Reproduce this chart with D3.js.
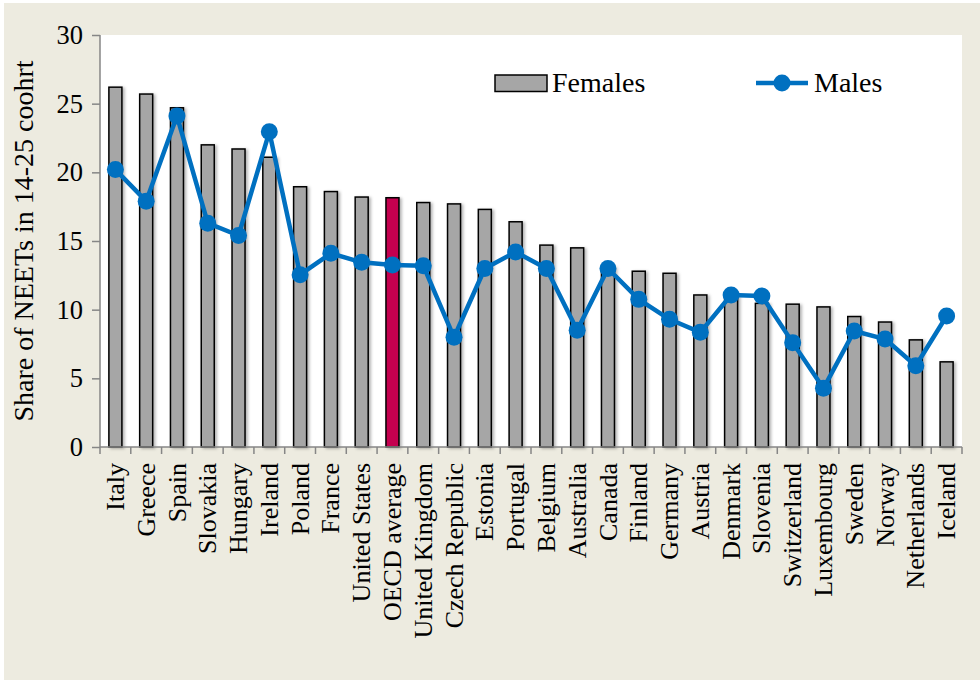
<!DOCTYPE html>
<html>
<head>
<meta charset="utf-8">
<script src="https://cdn.jsdelivr.net/npm/d3@7"></script>
<style>
  html, body { margin: 0; padding: 0; background: #fff; }
  svg { display: block; }
</style>
</head>
<body>
<div id="chart-container"></div>
<script>
const countries = ["Italy", "Greece", "Spain", "Slovakia", "Hungary", "Ireland", "Poland", "France",
  "United States", "OECD average", "United Kingdom", "Czech Republic", "Estonia", "Portugal", "Belgium",
  "Australia", "Canada", "Finland", "Germany", "Austria", "Denmark", "Slovenia", "Switzerland",
  "Luxembourg", "Sweden", "Norway", "Netherlands", "Iceland"]
const females = [26.2, 25.7, 24.7, 22.0, 21.7, 21.1, 18.95, 18.6, 18.2, 18.15, 17.8, 17.7, 17.3, 16.4,
  14.7, 14.5, 13.1, 12.8, 12.65, 11.07, 11.0, 10.46, 10.4, 10.2, 9.5, 9.1, 7.8, 6.2]
const males = [20.2, 17.9, 24.1, 16.3, 15.4, 22.95, 12.55, 14.1, 13.45, 13.25, 13.2, 7.99, 13.0, 14.2,
  13.0, 8.5, 13.0, 10.75, 9.3, 8.35, 11.07, 11.0, 7.6, 4.27, 8.45, 7.86, 5.92, 9.54]
const yTicks = [0, 5, 10, 15, 20, 25, 30]
const highlight = "OECD average"

const drawChart = (w, h) => {
  const m = { left: 100, right: 962, top: 35, bottom: 447 }
  const font = "'Liberation Serif', 'Times New Roman', serif"

  const svg = d3.select('#chart-container')
    .append('svg')
    .attr('width', w)
    .attr('height', h)

  // beige frame, white plot area
  svg.append('rect').attr('x', 4).attr('y', 3).attr('width', w - 4).attr('height', h - 3)
    .attr('fill', '#EDEBE0')
  svg.append('rect').attr('x', m.left).attr('y', m.top)
    .attr('width', m.right - m.left).attr('height', m.bottom - m.top)
    .attr('fill', '#fff')

  const defs = svg.append('defs')
  const f = defs.append('filter').attr('id', 'shadow')
    .attr('x', '-50%').attr('y', '-10%').attr('width', '200%').attr('height', '130%')
  f.append('feDropShadow').attr('dx', 2).attr('dy', 1).attr('stdDeviation', 1.5)
    .attr('flood-color', '#000').attr('flood-opacity', 0.3)

  const x = d3.scaleBand().domain(countries).range([m.left, m.right])
  const y = d3.scaleLinear().domain([0, 30]).range([m.bottom, m.top])
  const bw = 13

  // bars
  svg.append('g').selectAll('rect')
    .data(countries)
    .enter()
    .append('rect')
    .attr('x', d => x(d) + x.bandwidth() / 2 - bw / 2)
    .attr('y', (d, i) => y(females[i]))
    .attr('width', bw)
    .attr('height', (d, i) => y(0) - y(females[i]))
    .attr('fill', d => d === highlight ? '#C4004F' : '#A6A6A6')
    .attr('stroke', '#000')
    .attr('stroke-width', 1.5)
    .attr('filter', 'url(#shadow)')

  // y axis
  const yAxis = svg.append('g')
    .attr('transform', `translate(${m.left}, 0)`)
    .call(d3.axisLeft(y).tickValues(yTicks).tickSize(8).tickPadding(9))
  yAxis.selectAll('path, line').attr('stroke', '#868686').attr('stroke-width', 1.5)
  yAxis.select('.domain').attr('d', `M0,${m.top}V${m.bottom}`)
  yAxis.selectAll('text').attr('font-family', font).attr('font-size', 26.5).attr('fill', '#000')

  // x axis with ticks at category boundaries
  const xa = svg.append('g')
  xa.append('line').attr('x1', m.left).attr('x2', m.right).attr('y1', m.bottom).attr('y2', m.bottom)
    .attr('stroke', '#868686').attr('stroke-width', 1.5)
  xa.selectAll('.tk')
    .data(countries.concat(['end']))
    .enter()
    .append('line')
    .attr('x1', (d, i) => i < countries.length ? x(d) : m.right)
    .attr('x2', (d, i) => i < countries.length ? x(d) : m.right)
    .attr('y1', m.bottom).attr('y2', m.bottom + 7)
    .attr('stroke', '#868686').attr('stroke-width', 1.5)
  xa.selectAll('text')
    .data(countries)
    .enter()
    .append('text')
    .attr('transform', d => `translate(${x(d) + x.bandwidth() / 2}, ${m.bottom + 16}) rotate(-90)`)
    .attr('text-anchor', 'end')
    .attr('dy', '0.33em')
    .attr('font-family', font)
    .attr('font-size', 26)
    .text(d => d)

  // males line
  const line = d3.line()
    .x((d, i) => x(countries[i]) + x.bandwidth() / 2)
    .y(d => y(d))
  svg.append('path')
    .datum(males)
    .attr('d', line)
    .attr('fill', 'none')
    .attr('stroke', '#0070C0')
    .attr('stroke-width', 4.5)
    .attr('stroke-linejoin', 'round')
  svg.append('g').selectAll('circle')
    .data(males)
    .enter()
    .append('circle')
    .attr('cx', (d, i) => x(countries[i]) + x.bandwidth() / 2)
    .attr('cy', d => y(d))
    .attr('r', 8.5)
    .attr('fill', '#0070C0')

  // y title
  svg.append('text')
    .attr('transform', `translate(33, ${(m.top + m.bottom) / 2}) rotate(-90)`)
    .attr('text-anchor', 'middle')
    .attr('font-family', font)
    .attr('font-size', 28)
    .text('Share of NEETs in 14-25 coohrt')

  // legend
  const lg = svg.append('g')
  lg.append('rect').attr('x', 495).attr('y', 75).attr('width', 52).attr('height', 16.5)
    .attr('fill', '#A6A6A6').attr('stroke', '#000').attr('stroke-width', 1.5)
  lg.append('text').attr('x', 552).attr('y', 91.5)
    .attr('font-family', font).attr('font-size', 28).text('Females')
  lg.append('line').attr('x1', 756).attr('x2', 808).attr('y1', 83).attr('y2', 83)
    .attr('stroke', '#0070C0').attr('stroke-width', 4.5)
  lg.append('circle').attr('cx', 782).attr('cy', 83).attr('r', 8.5).attr('fill', '#0070C0')
  lg.append('text').attr('x', 814).attr('y', 91.5)
    .attr('font-family', font).attr('font-size', 28).text('Males')
}

drawChart(980, 680)
</script>
</body>
</html>
